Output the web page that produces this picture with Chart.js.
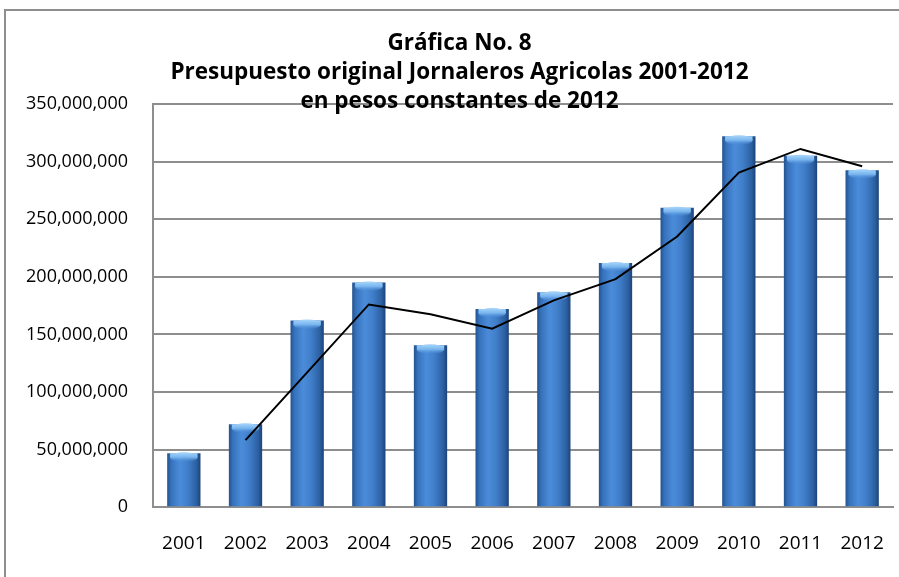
<!DOCTYPE html>
<html>
<head>
<meta charset="utf-8">
<script src="https://cdn.jsdelivr.net/npm/chart.js@4.4.0/dist/chart.umd.min.js"></script>
<style>
  html, body { margin: 0; padding: 0; background: #fff; overflow: hidden; }
  .wrap { position: relative; width: 899px; height: 577px; overflow: hidden; }
  .frame { position: absolute; left: 4px; top: 9px; width: 2000px; height: 2000px; border: 2px solid #8e8e8e; }
  canvas { position: absolute; left: 0; top: 0; }
</style>
</head>
<body>
<div class="wrap">
  <div class="frame"></div>
  <canvas id="myChart" width="899" height="577"></canvas>
</div>
<script>
const years = ['2001', '2002', '2003', '2004', '2005', '2006', '2007', '2008', '2009', '2010', '2011', '2012'];
// presupuesto original, pesos constantes de 2012
const budget = [46900000, 72000000, 162000000, 195000000, 140500000, 172000000, 186500000, 212000000, 260000000, 322000000, 305000000, 292500000];
// black trend line (starts in 2002)
const trend = [null, 58200000, 117000000, 176000000, 167500000, 155000000, 179500000, 198000000, 235000000, 290500000, 311000000, 296000000];
const titleLines = ['Gráfica No. 8', 'Presupuesto original Jornaleros Agricolas 2001-2012', 'en pesos constantes de 2012'];

const BAR_PCT = 0.54;

const app = {
  barGradient: function(context){
    const chart = context.chart;
    if(!chart.chartArea){
      return '#3b78c4';
    }
    const xScale = chart.scales.x;
    const x = xScale.getPixelForValue(context.dataIndex);
    const half = xScale.width / years.length * BAR_PCT / 2;
    const g = chart.ctx.createLinearGradient(x - half, 0, x + half, 0);
    g.addColorStop(0, '#24528e');
    g.addColorStop(0.12, '#3672bc');
    g.addColorStop(0.38, '#4b8cda');
    g.addColorStop(0.62, '#407ec9');
    g.addColorStop(0.88, '#2c60a2');
    g.addColorStop(1, '#1d4378');
    return g;
  },

  capPlugin: {
    id: 'barCap',
    afterDatasetDraw: function(chart, args){
      if(args.index !== 1){
        return;
      }
      const ctx = chart.ctx;
      const meta = chart.getDatasetMeta(1);
      ctx.save();
      for(let bar of meta.data){
        const p = bar.getProps(['x', 'y', 'width'], true);
        const left = p.x - p.width / 2;
        const g = ctx.createLinearGradient(0, p.y, 0, p.y + 9);
        g.addColorStop(0, '#9fd0f8');
        g.addColorStop(0.45, '#78b4ee');
        g.addColorStop(1, 'rgba(74,138,214,0)');
        ctx.fillStyle = g;
        ctx.beginPath();
        ctx.ellipse(p.x, p.y + 4, p.width / 2 - 3, 5, 0, 0, Math.PI * 2);
        ctx.fill();
        ctx.fillRect(left + 3, p.y, p.width - 6, 4);
      }
      ctx.restore();
    }
  },

  initChart: function(){
    const thisApp = this;
    thisApp.ctx = document.getElementById('myChart').getContext('2d');
    // eslint-disable-next-line no-undef
    thisApp.chart = new Chart(thisApp.ctx, {
      data: {
        labels: years,
        datasets: [{
          type: 'line',
          label: 'Tendencia',
          data: trend,
          borderColor: '#000000',
          borderWidth: 2,
          pointRadius: 0,
          tension: 0,
          fill: false,
          order: 0,
        },
        {
          type: 'bar',
          label: 'Presupuesto',
          data: budget,
          backgroundColor: thisApp.barGradient,
          borderWidth: 0,
          barPercentage: BAR_PCT,
          categoryPercentage: 1,
          order: 1,
        }]
      },
      options: {
        responsive: false,
        animation: false,
        layout: {
          padding: { left: 26, right: 6, top: 0, bottom: -3 }
        },
        plugins: {
          legend: { display: false },
          tooltip: { enabled: false },
          title: {
            display: true,
            text: titleLines,
            color: '#000000',
            font: { family: 'Open Sans', size: 22.5, weight: 'bold', lineHeight: '29px' },
            padding: { top: 29, bottom: -12 }
          }
        },
        scales: {
          x: {
            afterFit: function(scale){
              scale.paddingLeft = 0;
              scale.paddingRight = 0;
            },
            grid: { display: false, drawTicks: false },
            border: { display: true, color: '#8e8e8e', width: 2 },
            ticks: {
              color: '#000000',
              padding: 25,
              font: { family: 'Open Sans', size: 19 }
            }
          },
          y: {
            min: 0,
            max: 350000000,
            afterFit: function(scale){
              scale.width = 127;
            },
            grid: { color: '#8e8e8e', lineWidth: 2, drawTicks: false },
            border: { display: true, color: '#8e8e8e', width: 2 },
            ticks: {
              stepSize: 50000000,
              color: '#000000',
              padding: 25,
              font: { family: 'Open Sans', size: 18 },
              callback: function(value){
                return value.toLocaleString('en-US');
              }
            }
          }
        }
      },
      plugins: [thisApp.capPlugin]
    });
  },

  init: function(){
    this.initChart();
  }
};

app.init();
</script>
</body>
</html>
